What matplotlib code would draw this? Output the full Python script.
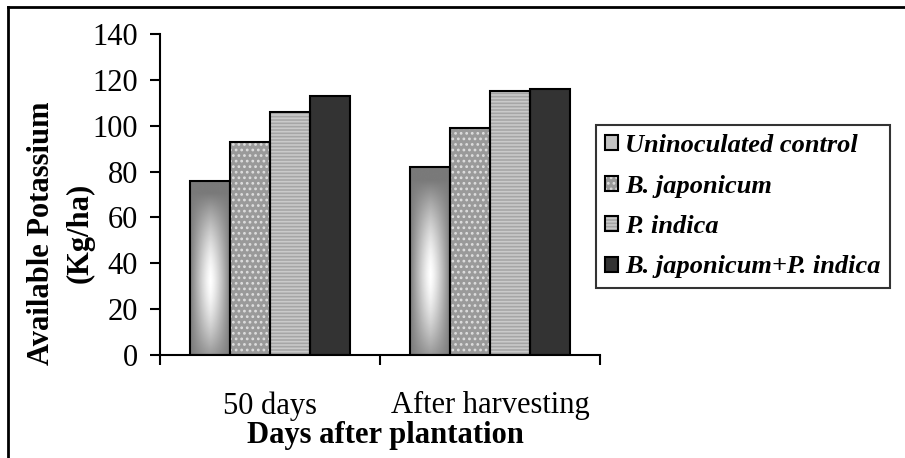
import numpy as np
import matplotlib
matplotlib.use('Agg')
import matplotlib.pyplot as plt
from matplotlib.lines import Line2D
from matplotlib.legend_handler import HandlerTuple

# data
stages = ['50 days', 'After harvesting']
series = ['Uninoculated control', 'B. japonicum', 'P. indica', 'B. japonicum+P. indica']
control = [76, 82]
b_japonicum = [93, 99]
p_indica = [106, 115]
combined = [113, 116]
y_ticks = [0, 20, 40, 60, 80, 100, 120, 140]

values = [control, b_japonicum, p_indica, combined]

plt.rcParams['font.family'] = ['Liberation Serif', 'DejaVu Serif']
plt.rcParams['hatch.linewidth'] = 1.2

# fill colour, hatch, hatch colour for each series
styles = [
    ('#c4c4c4', None, None),
    ('#9a9a9a', '...', '#dedede'),
    ('#a6a6a6', '-----', '#cacaca'),
    ('#333333', None, None),
]


def gradient_fill(ax, bar):
    # grey at the edges, white toward the middle, clipped to the bar
    x0, y0 = bar.get_x(), bar.get_y()
    w, h = bar.get_width(), bar.get_height()
    xx, yy = np.meshgrid(np.linspace(-1, 1, 60), np.linspace(-1, 1, 160))
    yy = yy + 0.15
    img = 0.48 + 0.52 * (1 - np.abs(xx) ** 1.3) * (1 - np.clip(np.abs(yy), 0, 1) ** 1.6)
    im = ax.imshow(img, cmap='gray', vmin=0, vmax=1, extent=(x0, x0 + w, y0, y0 + h),
                   origin='lower', aspect='auto', interpolation='bilinear', zorder=2)
    im.set_clip_path(bar)


fig = plt.figure(figsize=(9.05, 4.58), dpi=100)
ax = fig.add_axes([160 / 905, 1 - 355 / 458, 440 / 905, 321 / 458])

x = np.arange(len(stages))
width = 0.182
handles = []
for i, (name, vals) in enumerate(zip(series, values)):
    face, hatch, hcolor = styles[i]
    pos = x + (i - 1.5) * width
    fill = ax.bar(pos, vals, width, color=face, hatch=hatch,
                  edgecolor=hcolor if hcolor else face, linewidth=0, zorder=1)
    edge = ax.bar(pos, vals, width, fill=False, edgecolor='black', linewidth=1.5, zorder=3)
    if i == 0:
        for b in fill:
            gradient_fill(ax, b)
    handles.append((fill, edge))

ax.set_xlim(-0.5, 1.5)
ax.set_ylim(0, 140)
ax.set_yticks(y_ticks)
ax.set_xticks([-0.5, 0.5, 1.5])
ax.set_xticklabels([])
ax.set_xticks(x, minor=True)
ax.set_xticklabels(stages, minor=True)
ax.tick_params(axis='x', which='major', length=7, width=1.5, direction='out')
ax.tick_params(axis='x', which='minor', length=0, pad=26, labelsize=22)
ax.tick_params(axis='y', length=7, width=1.5, direction='out', pad=9, labelsize=22)

for s in ['top', 'right']:
    ax.spines[s].set_visible(False)
for s in ['left', 'bottom']:
    ax.spines[s].set_linewidth(1.5)

fig.text(61 / 905, 1 - 233 / 458, 'Available Potassium\n(Kg/ha)', rotation=90,
         ha='center', va='center', fontsize=22, fontweight='bold',
         multialignment='center', linespacing=1.45)
fig.text(385 / 905, 1 - 443 / 458, 'Days after plantation', ha='center', va='baseline',
         fontsize=22, fontweight='bold')

leg = fig.legend(handles, series, loc='upper left',
                 bbox_to_anchor=(596 / 905, 1 - 125 / 458), bbox_transform=fig.transFigure,
                 handler_map={tuple: HandlerTuple(ndivide=1, pad=0)},
                 prop={'size': 19, 'weight': 'bold', 'style': 'italic'},
                 frameon=True, fancybox=False, shadow=False, borderaxespad=0,
                 handlelength=0.5, handleheight=0.5, handletextpad=0.25,
                 labelspacing=0.66, borderpad=0.35)
leg.get_frame().set_edgecolor('black')
leg.get_frame().set_linewidth(1.5)

# outer frame (left and top edges only are visible)
fig.add_artist(Line2D([8 / 905, 8 / 905], [0, 1 - 7 / 458], transform=fig.transFigure,
                      color='black', linewidth=2))
fig.add_artist(Line2D([8 / 905, 1], [1 - 7 / 458, 1 - 7 / 458], transform=fig.transFigure,
                      color='black', linewidth=2))

fig.savefig('out.png', dpi=100)
